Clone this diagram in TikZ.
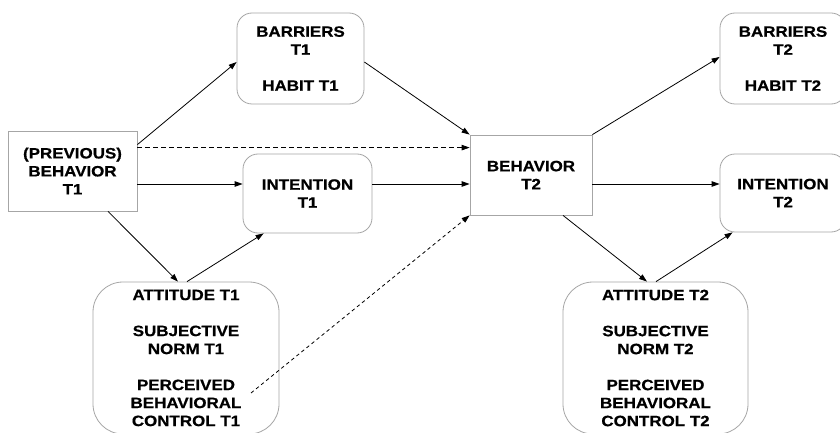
\documentclass[tikz,border=0pt]{standalone}
\usepackage{fontspec}
\newfontfamily\lab{Liberation Sans}[FakeStretch=1.13, FakeBold=0.6]
\usetikzlibrary{arrows.meta,calc}
\definecolor{boxgray}{HTML}{A6A6A6}
\tikzset{
  box/.style={draw=boxgray, line width=0.8pt, inner sep=0pt, align=center,
    font=\lab\bfseries\fontsize{15pt}{18pt}\selectfont},
  rbox/.style={box, rounded corners=15pt},
  bigbox/.style={box, rounded corners=30pt},
  arr/.style={line width=0.8pt, -{Triangle[length=8pt,width=5.5pt]}},
  darr/.style={arr, dash pattern=on 5pt off 3pt},
  dotarr/.style={arr, dash pattern=on 3.5pt off 3pt}
}
\begin{document}
\begin{tikzpicture}[x=1pt,y=-1pt]
\useasboundingbox (0,0) rectangle (840,433);
\fill[white] (0,0) rectangle (840,433);
\node[box, minimum width=129pt, minimum height=80pt] (prev) at (72.5,171) {(PREVIOUS)\\BEHAVIOR\\T1};
\node[rbox, minimum width=127pt, minimum height=91pt] (barA) at (300.5,58.5) {BARRIERS\\T1\\[18pt]HABIT T1};
\node[rbox, minimum width=129pt, minimum height=79pt] (intA) at (307.5,193.5) {INTENTION\\T1};
\node[bigbox, minimum width=186pt, minimum height=152pt] (attA) at (186,358) {ATTITUDE T1\\[18pt]SUBJECTIVE\\NORM T1\\[18pt]PERCEIVED\\BEHAVIORAL\\CONTROL T1};
\node[box, minimum width=122pt, minimum height=80pt] (beh) at (531,175) {BEHAVIOR\\T2};
\node[rbox, minimum width=126pt, minimum height=91pt] (barB) at (783,58.5) {BARRIERS\\T2\\[18pt]HABIT T2};
\node[rbox, minimum width=126pt, minimum height=78pt] (intB) at (783,193) {INTENTION\\T2};
\node[bigbox, minimum width=185pt, minimum height=152pt] (attB) at (655.5,358) {ATTITUDE T2\\[18pt]SUBJECTIVE\\NORM T2\\[18pt]PERCEIVED\\BEHAVIORAL\\CONTROL T2};

\draw[arr] ([yshift=-14pt]prev.north east) -- ([yshift=-3.5pt]barA.west);
\draw[darr] ([yshift=-17pt]prev.north east) coordinate (d1) -- (d1 -| beh.west);
\draw[arr] ([yshift=-13pt]prev.east) coordinate (p1) -- (p1 -| intA.west);
\draw[arr] ([xshift=35.5pt]prev.south) -- ([xshift=-8pt]attA.north);
\draw[arr] ([xshift=1pt]attA.north) -- ([xshift=21pt]intA.south west);
\draw[arr] ([yshift=-3.5pt]barA.east) -- (beh.north west);
\draw[arr] (p1 -| intA.east) coordinate (p2) -- (p2 -| beh.west);
\draw[dotarr] ([shift={(65,35)}]attA.center) -- (beh.south west);
\draw[arr] (beh.north east) -- ([yshift=1.5pt]barB.west);
\draw[arr] (p1 -| beh.east) coordinate (p3) -- (p3 -| intB.west);
\draw[arr] ([xshift=32pt]beh.south) -- ([xshift=-8.5pt]attB.north);
\draw[arr] ([xshift=0.5pt]attB.north) -- ([xshift=13pt]intB.south west);
\end{tikzpicture}
\end{document}
